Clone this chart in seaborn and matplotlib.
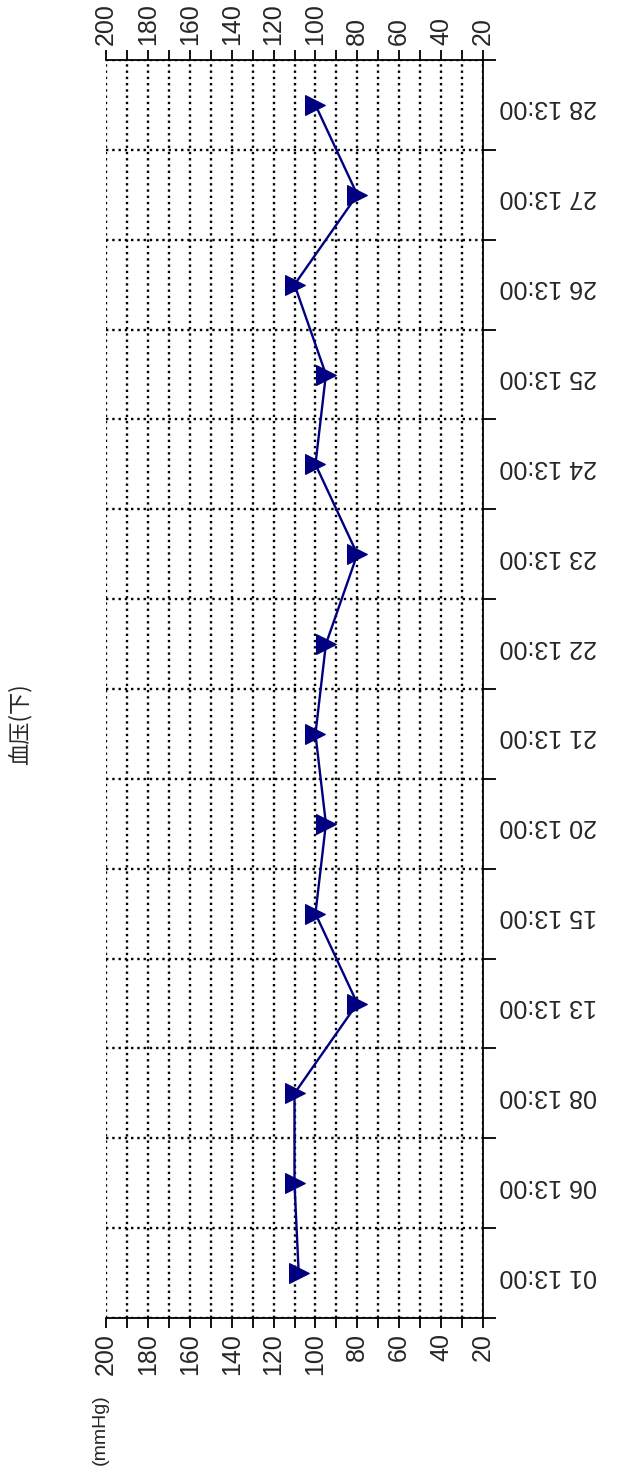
import matplotlib
matplotlib.use('Agg')
import matplotlib.pyplot as plt
import numpy as np
import pandas as pd
import seaborn as sns
from matplotlib.ticker import MultipleLocator, FixedLocator

# data (lower blood pressure, mmHg)
dates = ['01 13:00', '06 13:00', '08 13:00', '13 13:00', '15 13:00', '20 13:00', '21 13:00',
         '22 13:00', '23 13:00', '24 13:00', '25 13:00', '26 13:00', '27 13:00', '28 13:00']
pressure = [108, 110, 110, 80, 100, 95, 100, 95, 80, 100, 95, 110, 80, 100]

sns.set_style('ticks')
plt.rcParams['font.family'] = ['Liberation Sans', 'Noto Sans CJK SC', 'DejaVu Sans']

df = pd.DataFrame({'date': dates, 'value': pressure, 'pos': np.arange(len(dates))})

# the chart is drawn turned a quarter turn: values run across, dates run up
fig = plt.figure(figsize=(6.17, 14.83), dpi=100)
ax = fig.add_axes([106/617, 1 - 1318/1483, (483 - 106)/617, (1318 - 60)/1483])

sns.lineplot(data=df, x='value', y='pos', sort=False, estimator=None,
             color='#000080', marker='>', markersize=14, markeredgecolor='#000080',
             linewidth=1.7, ax=ax)

ax.set_xlim(200, 20)
ax.set_ylim(-0.5, len(dates) - 0.5)
ax.set_xlabel('')
ax.set_ylabel('')

# value axis (top and bottom)
ax.xaxis.set_major_locator(MultipleLocator(20))
ax.xaxis.set_minor_locator(MultipleLocator(10))
ax.tick_params(axis='x', which='both', top=True, bottom=True, labeltop=True, labelbottom=True,
               direction='out', length=7, width=1.3, color='black')
ax.tick_params(axis='x', which='major', labelrotation=90, labelsize=18, pad=4)

# date axis (right side)
ax.set_yticks(df['pos'])
ax.set_yticklabels(dates)
ax.yaxis.set_minor_locator(FixedLocator(np.arange(-0.5, len(dates), 1)))
ax.yaxis.tick_right()
ax.tick_params(axis='y', which='major', length=0, labelright=True, labelleft=False,
               labelrotation=180, labelsize=18, pad=12)
ax.tick_params(axis='y', which='minor', right=True, left=False, direction='out',
               length=9, width=1.3, color='black')

ax.grid(which='both', axis='x', linestyle=':', color='black', linewidth=1.7)
ax.grid(which='minor', axis='y', linestyle=':', color='black', linewidth=1.7)
ax.grid(which='major', axis='y', visible=False)

for side in ['top', 'bottom', 'right']:
    ax.spines[side].set_color('black')
    ax.spines[side].set_linewidth(1.3)
ax.spines['left'].set_visible(False)

fig.text(20/617, 1 - 724/1483, '血压(下)', rotation=90, fontsize=16,
         family=['Noto Sans CJK SC', 'DejaVu Sans'], ha='center', va='center')
fig.text(100/617, 1 - 1430/1483, '(mmHg)', rotation=90, fontsize=14,
         ha='center', va='center')

fig.savefig('out.png', dpi=100)
